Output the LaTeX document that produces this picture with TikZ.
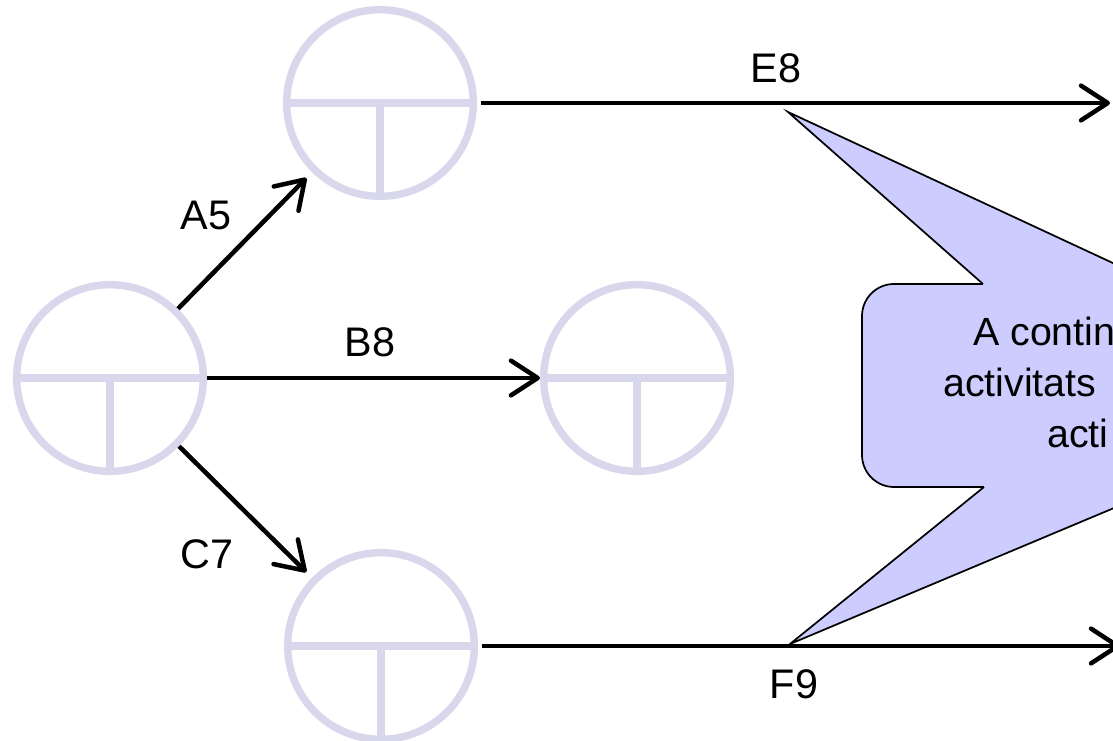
\documentclass[tikz,border=0pt]{standalone}
\usepackage{fontspec}
\setmainfont{Liberation Sans}
\usetikzlibrary{arrows.meta}
\definecolor{ringcol}{RGB}{217,215,236}
\definecolor{notecol}{RGB}{204,204,255}

\tikzset{
  ring/.style={circle, draw=ringcol, line width=5.6pt, inner sep=0pt, minimum size=140pt,
    path picture={\draw[ringcol, line width=5.6pt]
      (path picture bounding box.west) -- (path picture bounding box.east)
      (path picture bounding box.center) -- (path picture bounding box.south);}},
  arr/.style={line width=3.4pt, -{Straight Barb[length=20pt,width=26pt,round]}},
  lbl/.style={font=\fontsize{31}{37}\selectfont, inner sep=0pt},
  notetxt/.style={font=\fontsize{29.5}{35}\selectfont, inner sep=0pt, anchor=base west}
}

\begin{document}
\begin{tikzpicture}[x=0.75pt, y=-0.75pt]
	\useasboundingbox (0,0) rectangle (1113,741);
	\begin{scope}
	\clip (0,0) rectangle (1113,741);
	% events
	\node[ring] (L) at (110,378) {};
	\node[ring] (T) at (380,103) {};
	\node[ring] (M) at (637,378) {};
	\node[ring] (Bt) at (381,646) {};
	\coordinate (eEnd) at (1110,103);
	\coordinate (fEnd) at (1120,646);
	% activities
	\draw[arr, shorten >=6pt] (L) -- (T);
	\draw[arr] (L) -- (M);
	\draw[arr, shorten >=6pt] (L) -- (Bt);
	\draw[arr, shorten <=3pt] (T.east) -- (eEnd);
	\draw[arr, shorten <=3pt] (Bt.east) -- (fEnd);
	\node[lbl] (lA) at (206,215) {A5};
	\node[lbl] (lB) at (370,342) {B8};
	\node[lbl] (lC) at (207,554) {C7};
	\node[lbl] (lE) at (776,68) {E8};
	\node[lbl] (lF) at (794,684) {F9};
	% callout with two pointers
	\coordinate (tipE) at (788,112);
	\coordinate (tipF) at (790,644);
	\draw[fill=notecol, line width=1.3pt, rounded corners=24pt] (862,284) rectangle (1400,487);
	\fill[notecol] (tipE) -- (983,284) -- (983,290) -- (1170,290) -- (1158,284) -- cycle;
	\fill[notecol] (tipF) -- (984,487) -- (984,481) -- (1176,481) -- (1164,487) -- cycle;
	\draw[line width=1.3pt, line join=miter] (983,284) -- (tipE) -- (1158,284);
	\draw[line width=1.3pt, line join=miter] (984,487) -- (tipF) -- (1164,487);
	\node[notetxt] (n1) at (973,345) {A contin};
	\node[notetxt] (n2) at (943,396) {activitats};
	\node[notetxt] (n3) at (1047,447) {acti};
	\end{scope}
\end{tikzpicture}
\end{document}
